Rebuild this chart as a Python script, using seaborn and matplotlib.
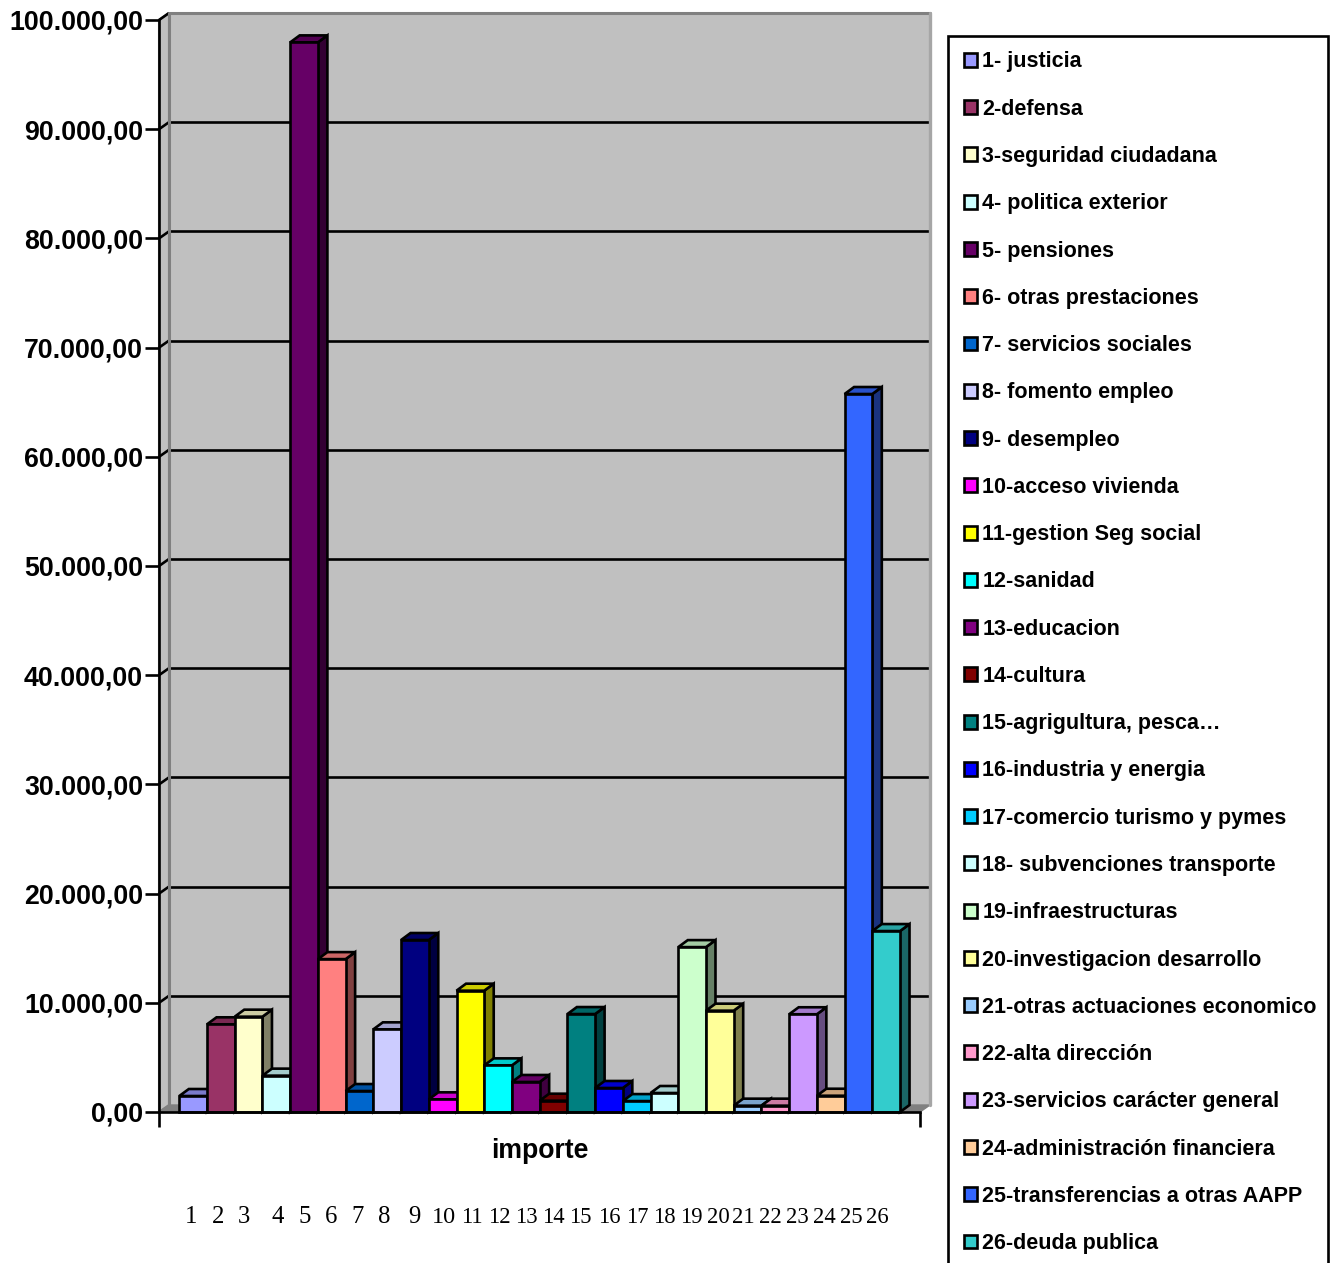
#!/usr/bin/env python3
import pandas as pd
import matplotlib
matplotlib.use("Agg")
import matplotlib.pyplot as plt
from matplotlib.colors import to_rgb
from matplotlib.patches import Polygon, Rectangle
import seaborn as sns

# ── Data ────────────────────────────────────────────────
categories = [
    "1- justicia", "2-defensa", "3-seguridad ciudadana", "4- politica exterior",
    "5- pensiones", "6- otras prestaciones", "7- servicios sociales", "8- fomento empleo",
    "9- desempleo", "10-acceso vivienda", "11-gestion Seg social", "12-sanidad",
    "13-educacion", "14-cultura", "15-agrigultura, pesca…", "16-industria y energia",
    "17-comercio turismo y pymes", "18- subvenciones transporte", "19-infraestructuras",
    "20-investigacion desarrollo", "21-otras actuaciones economico", "22-alta dirección",
    "23-servicios carácter general", "24-administración financiera",
    "25-transferencias a otras AAPP", "26-deuda publica",
]
importe = [
    1465, 8030, 8730, 3330, 97950, 14000, 1920, 7570, 15750, 1160, 11110, 4270, 2750,
    1035, 8970, 2200, 1000, 1740, 15100, 9280, 580, 580, 8950, 1490, 65750, 16570,
]
colors = [
    "#9999FF", "#993366", "#FFFFCC", "#CCFFFF", "#660066", "#FF8080", "#0066CC", "#CCCCFF",
    "#000080", "#FF00FF", "#FFFF00", "#00FFFF", "#800080", "#800000", "#008080", "#0000FF",
    "#00CCFF", "#CCFFFF", "#CCFFCC", "#FFFF99", "#99CCFF", "#FF99CC", "#CC99FF", "#FFCC99",
    "#3366FF", "#33CCCC",
]
y_ticks = [0, 10000, 20000, 30000, 40000, 50000, 60000, 70000, 80000, 90000, 100000]
y_labels = ["0,00", "10.000,00", "20.000,00", "30.000,00", "40.000,00", "50.000,00",
            "60.000,00", "70.000,00", "80.000,00", "90.000,00", "100.000,00"]
number_labels = [str(i) for i in range(1, 27)]

# ── Layout (pixels) ─────────────────────────────────────
W, H = 1336, 1263
AX_L, AX_R, AX_T, AX_B = 159, 920, 20, 1112
NUMBER_X = [191, 218, 244, 278, 305, 331, 358, 384, 414, 444, 472, 499, 526,
            553, 580, 609, 637, 664, 691, 718, 743, 770, 797, 824, 851, 877]
BAR_L, BAR_W = 179.3, 27.72
LW = 1.9

sns.set_theme(style="white")
plt.rcParams["font.family"] = ["Liberation Sans", "DejaVu Sans"]
plt.rcParams["font.weight"] = "bold"

fig = plt.figure(figsize=(W / 100, H / 100), dpi=100)
ax = fig.add_axes([AX_L / W, 1 - AX_B / H, (AX_R - AX_L) / W, (AX_B - AX_T) / H])
ax.patch.set_alpha(0)

df = pd.DataFrame({"categoria": categories, "importe": importe})
sns.barplot(data=df, x="categoria", y="importe", hue="categoria", palette=colors,
            dodge=False, width=1, saturation=1, edgecolor="black", linewidth=LW,
            legend=True, ax=ax)

xmin = -0.5 - (BAR_L - AX_L) / BAR_W
xmax = xmin + (AX_R - AX_L) / BAR_W
ax.set_xlim(xmin, xmax)
ax.set_ylim(0, 100000)

# Depth of the fake 3D in data units
dx = 9.5 / BAR_W
dy = 7 * 100000 / (AX_B - AX_T)
wall_dx = 10 / BAR_W
wall_l, wall_r = xmin + wall_dx, xmax + wall_dx
wall_t = 100000 + dy

# ── Walls and floor ─────────────────────────────────────
ax.add_patch(Polygon([(wall_l, dy), (wall_r, dy), (wall_r, wall_t), (wall_l, wall_t)],
                     closed=True, facecolor="#C0C0C0", edgecolor="none",
                     clip_on=False, zorder=0.2))
ax.add_patch(Polygon([(xmin, 0), (wall_l, dy), (wall_l, wall_t), (xmin, 100000)],
                     closed=True, facecolor="#C0C0C0", edgecolor="#808080", linewidth=1.5,
                     clip_on=False, zorder=0.3))
ax.add_patch(Polygon([(xmin, 0), (wall_l, dy), (wall_r, dy), (xmax, 0)],
                     closed=True, facecolor="#808080", edgecolor="#808080", linewidth=1,
                     clip_on=False, zorder=0.3))
for t in y_ticks[1:-1]:
    ax.plot([wall_l, wall_r], [t + dy, t + dy], color="black", lw=LW,
            clip_on=False, solid_capstyle="butt", zorder=0.5)
for t in y_ticks[1:]:
    ax.plot([xmin, wall_l], [t, t + dy], color="black", lw=LW,
            clip_on=False, solid_capstyle="butt", zorder=0.6)
ax.plot([wall_l, wall_l, wall_r], [dy, wall_t, wall_t], color="#808080", lw=2.2,
        clip_on=False, zorder=0.7)
ax.plot([wall_r, wall_r], [dy, wall_t], color="#A6A6A6", lw=2.4, clip_on=False, zorder=0.7)

# ── Bars: side and top faces behind each front ──────────
bars = [p for c in ax.containers for p in c]
for i, bar in enumerate(bars):
    x0, w, h = bar.get_x(), bar.get_width(), bar.get_height()
    rgb = to_rgb(colors[i])
    z = 2 + i * 0.1
    side = [(x0 + w, 0), (x0 + w + dx, dy), (x0 + w + dx, h + dy), (x0 + w, h)]
    top = [(x0, h), (x0 + dx, h + dy), (x0 + w + dx, h + dy), (x0 + w, h)]
    ax.add_patch(Polygon(side, closed=True, facecolor=[c * 0.5 for c in rgb], edgecolor="black",
                         linewidth=LW, clip_on=False, zorder=z))
    ax.add_patch(Polygon(top, closed=True, facecolor=[c * 0.8 for c in rgb], edgecolor="black",
                         linewidth=LW, clip_on=False, zorder=z))
    bar.set_zorder(z + 0.01)
    bar.set_clip_on(False)

# ── Axes ────────────────────────────────────────────────
sns.despine(ax=ax, top=True, right=True)
for s in ("left", "bottom"):
    ax.spines[s].set_linewidth(LW)
    ax.spines[s].set_color("black")
    ax.spines[s].set_zorder(10)
ax.set_yticks(y_ticks, y_labels, fontsize=19.3, fontweight="bold", color="black")
ax.set_xticks([xmin, xmax], ["", ""])
ax.tick_params(axis="y", length=10, width=LW, color="black", pad=1.5, left=True)
ax.tick_params(axis="x", length=10.5, width=LW, color="black", bottom=True)
ax.set_ylabel("")
ax.set_xlabel("importe", fontsize=19.2, fontweight="bold", color="black", labelpad=4.5)

# ── Legend (box runs off the bottom of the figure) ──────
handles, labels = ax.get_legend_handles_labels()
ax.legend(handles, labels, loc="upper left", bbox_to_anchor=(948 / W, 1 - 36 / H),
          bbox_transform=fig.transFigure, ncol=1, frameon=False,
          prop={"family": "Liberation Sans", "weight": "bold", "size": 15.5},
          labelspacing=1.22, handlelength=0.62, handleheight=0.62, handletextpad=0.25,
          borderpad=0.72, borderaxespad=0, labelcolor="black")
fig.add_artist(Rectangle((948 / W, 1 - 1300 / H), 380 / W, 1264 / H, transform=fig.transFigure,
                         fill=False, edgecolor="black", linewidth=LW))

# ── Number row under the chart ──────────────────────────
for x, lab in zip(NUMBER_X, number_labels):
    size = 17.8 if len(lab) == 1 else 17.5 if lab == "10" else 16.3
    fig.text(x / W, 1 - 1223 / H, lab, ha="center", va="baseline", color="black",
             family="Liberation Serif", weight="normal", fontsize=size)

fig.savefig("out.png", dpi=100)
